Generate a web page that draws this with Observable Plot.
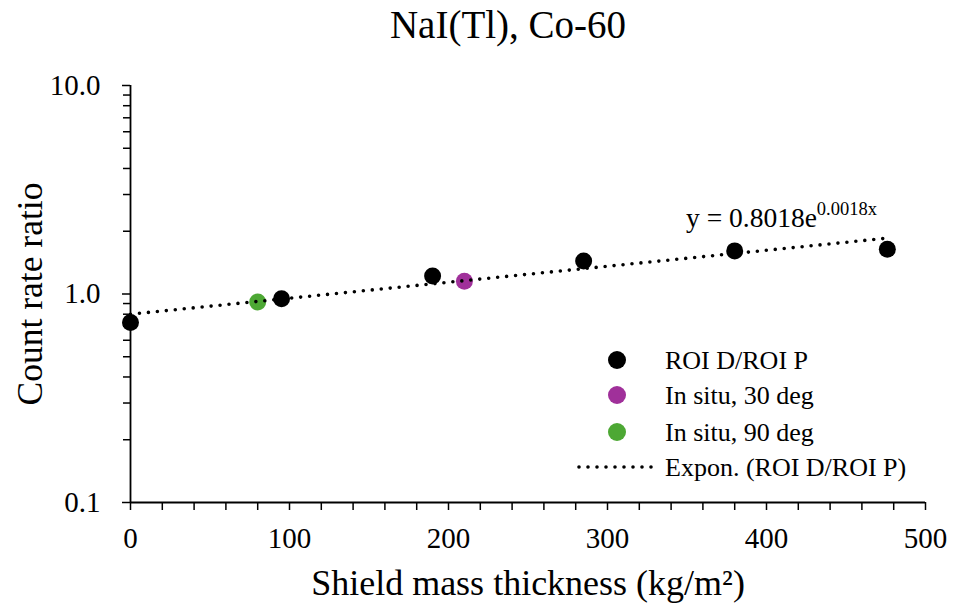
<!DOCTYPE html>
<html>
<head>
<meta charset="utf-8">
<script src="https://cdn.jsdelivr.net/npm/d3@7"></script>
<script src="https://cdn.jsdelivr.net/npm/@observablehq/plot@0.6"></script>
<style>
  body { margin: 0; background: #fff; }
  #wrap { position: relative; width: 953px; height: 609px; font-family: "Liberation Serif", "DejaVu Serif", serif; }
  #overlay { position: absolute; left: 0; top: 0; pointer-events: none; font-family: "Liberation Serif", serif; }
</style>
</head>
<body>
<div id="wrap"></div>
<script>
const title = "NaI(Tl), Co-60";
const xLabel = "Shield mass thickness (kg/m²)";
const yLabel = "Count rate ratio";

// ROI D / ROI P
const roiX = [0, 95, 190, 285, 380, 476];
const roiY = [0.73, 0.95, 1.22, 1.44, 1.61, 1.64];
// In situ, 30 deg
const situ30X = [210];
const situ30Y = [1.15];
// In situ, 90 deg
const situ90X = [80];
const situ90Y = [0.915];
// Exponential trend line endpoints
const trendX = [0, 475];
const trendY = [0.80, 1.85];

const xMajor = [0, 100, 200, 300, 400, 500];
const xMinor = [20, 40, 60, 80, 120, 140, 160, 180, 220, 240, 260, 280, 320, 340, 360, 380, 420, 440, 460, 480];
const yMajor = [0.1, 1, 10];
const yMinor = [0.2, 0.3, 0.4, 0.5, 0.6, 0.7, 0.8, 0.9, 2, 3, 4, 5, 6, 7, 8, 9];

const colBlack = "#000000";
const colPurple = "#A0309A";
const colGreen = "#4DA834";

const legendLabels = ["ROI D/ROI P", "In situ, 30 deg", "In situ, 90 deg", "Expon. (ROI D/ROI P)"];
const legendColors = [colBlack, colPurple, colGreen, "#000"];
const equationMain = "y = 0.8018e";
const equationSup = "0.0018x";

const roi = roiX.map((x, i) => ({x, y: roiY[i]}));
const s30 = situ30X.map((x, i) => ({x, y: situ30Y[i]}));
const s90 = situ90X.map((x, i) => ({x, y: situ90Y[i]}));
const trend = trendX.map((x, i) => ({x, y: trendY[i]}));

const font = "Liberation Serif";
const fmtX = d3.format("d");
const fmtY = d3.format(".1f");

const chart = Plot.plot({
  width: 953,
  height: 609,
  marginLeft: 130,
  marginRight: 28,
  marginTop: 85,
  marginBottom: 107,
  style: { fontFamily: font, background: "#fff", overflow: "visible" },
  x: { domain: [0, 500] },
  y: { type: "log", domain: [0.1, 10] },
  marks: [
    Plot.axisX({ ticks: xMajor, tickSize: 8, text: null, label: null, stroke: "#000", strokeWidth: 1.5 }),
    Plot.axisX({ ticks: xMinor, tickSize: 8, text: null, label: null, stroke: "#000", strokeWidth: 1.5 }),
    Plot.axisY({ ticks: yMajor, tickSize: 8, text: null, label: null, stroke: "#000", strokeWidth: 1.5 }),
    Plot.axisY({ ticks: yMinor, tickSize: 7, text: null, label: null, stroke: "#000", strokeWidth: 1.5 }),
    Plot.text(xMajor, { x: d => d, y: () => 0.1, text: d => fmtX(d), dy: 36, lineAnchor: "middle", textAnchor: "middle", fontSize: 29, fill: "#000" }),
    Plot.text(yMajor, { x: () => 0, y: d => d, text: d => fmtY(d), dx: -30, lineAnchor: "middle", textAnchor: "end", fontSize: 29, fill: "#000" }),
    Plot.ruleX([0], { stroke: "#000", strokeWidth: 1.8 }),
    Plot.ruleY([0.1], { stroke: "#000", strokeWidth: 1.8 }),
    Plot.dot(roi, { x: "x", y: "y", r: 8.5, fill: colBlack, stroke: null }),
    Plot.dot(s30, { x: "x", y: "y", r: 8.5, fill: colPurple, stroke: null }),
    Plot.dot(s90, { x: "x", y: "y", r: 8.5, fill: colGreen, stroke: null }),
    Plot.line(trend, { x: "x", y: "y", stroke: "#000", strokeWidth: 3.6, strokeDasharray: "0 9", strokeLinecap: "round" }),
    Plot.text([title], { frameAnchor: "top", lineAnchor: "middle", textAnchor: "middle", dy: -60, dx: -20, fontSize: 39, fill: "#000" }),
    Plot.text([xLabel], { frameAnchor: "bottom", lineAnchor: "middle", textAnchor: "middle", dy: 81, fontSize: 36, fill: "#000" }),
    Plot.text([yLabel], { frameAnchor: "left", lineAnchor: "middle", textAnchor: "middle", dx: -100, rotate: -90, fontSize: 35.5, fill: "#000" })
  ]
});

const wrap = document.getElementById("wrap");
wrap.appendChild(chart);

// Overlay: legend and trend equation
const ov = d3.select(wrap).append("svg")
  .attr("id", "overlay").attr("width", 953).attr("height", 609);

const eq = ov.append("text").attr("x", 686).attr("y", 227).attr("font-size", 27.5).attr("fill", "#000");
eq.append("tspan").text(equationMain);
eq.append("tspan").attr("font-size", 18.5).attr("dy", -12).text(equationSup);

const rowY = [360, 395, 432, 467];
legendLabels.forEach((lab, i) => {
  const g = ov.append("g");
  if (i < 3) {
    g.append("circle").attr("cx", 617).attr("cy", rowY[i]).attr("r", 9).attr("fill", legendColors[i]);
  } else {
    g.append("line").attr("x1", 579).attr("x2", 655).attr("y1", rowY[i]).attr("y2", rowY[i])
      .attr("stroke", "#000").attr("stroke-width", 3.6).attr("stroke-dasharray", "0 9").attr("stroke-linecap", "round");
  }
  g.append("text").attr("x", 665).attr("y", rowY[i]).attr("dy", "0.34em")
    .attr("font-size", 26).attr("fill", "#000").text(lab);
});
</script>
</body>
</html>
